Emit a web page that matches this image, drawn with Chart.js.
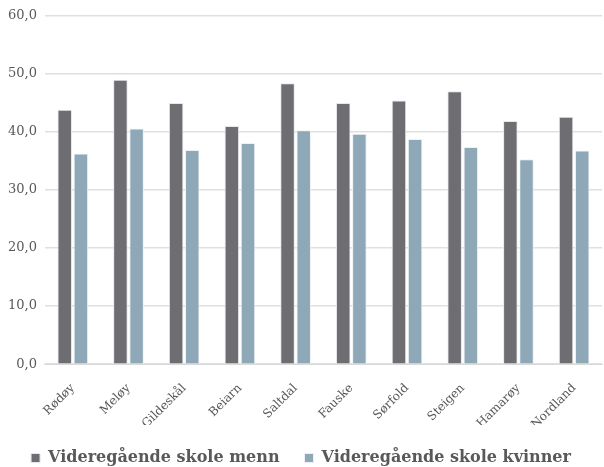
<!DOCTYPE html>
<html><head><meta charset="utf-8">
<script src="https://cdn.jsdelivr.net/npm/chart.js@4/dist/chart.umd.min.js"></script>
<style>html,body{margin:0;padding:0;background:#fff}#w{width:604px;height:467px;position:relative}</style>
</head><body><div id="w"><canvas id="c"></canvas></div>
<script>
const categories = ["Rødøy","Meløy","Gildeskål","Beiarn","Saltdal","Fauske","Sørfold","Steigen","Hamarøy","Nordland"];
const menn = [43.8,49.0,45.0,41.0,48.4,45.0,45.4,47.0,41.9,42.6];
const kvinner = [36.3,40.6,36.9,38.1,40.3,39.7,38.8,37.4,35.3,36.8];
const seriesNames = ["Videregående skole menn","Videregående skole kvinner"];

new Chart(document.getElementById('c'), {
  type: 'bar',
  data: {
    labels: categories,
    datasets: [
      {label: seriesNames[0], data: menn, backgroundColor: '#6e6d72', borderColor: '#e8e8ea', borderWidth: 1},
      {label: seriesNames[1], data: kvinner, backgroundColor: '#8fa8b8', borderColor: '#eef2f5', borderWidth: 1}
    ]
  },
  options: {
    responsive: true, maintainAspectRatio: false, animation: false,
    layout: {padding: {top: 14, right: 2, left: 0, bottom: -9}},
    datasets: {bar: {categoryPercentage: 0.58, barPercentage: 0.9}},
    scales: {
      x: {
        grid: {display: false},
        border: {color: '#d9d9d9'},
        afterFit: s => { s.height -= 16; },
        ticks: {color: '#595959', font: {family: 'DejaVu Serif', size: 12}, maxRotation: 45, minRotation: 45, padding: 9}
      },
      y: {
        min: 0, max: 60,
        grid: {color: '#e0e0e0', drawTicks: false, lineWidth: 1.5},
        border: {display: false},
        ticks: {stepSize: 10, color: '#595959', padding: 8, font: {family: 'DejaVu Serif', size: 13},
          callback: v => v.toFixed(1).replace('.', ',')}
      }
    },
    plugins: {
      legend: {position: 'bottom', labels: {boxWidth: 9, boxHeight: 9, color: '#595959', padding: 25,
        font: {family: 'DejaVu Serif', size: 16, weight: 'bold'}}},
      tooltip: {enabled: false}
    }
  }
});
</script></body></html>
